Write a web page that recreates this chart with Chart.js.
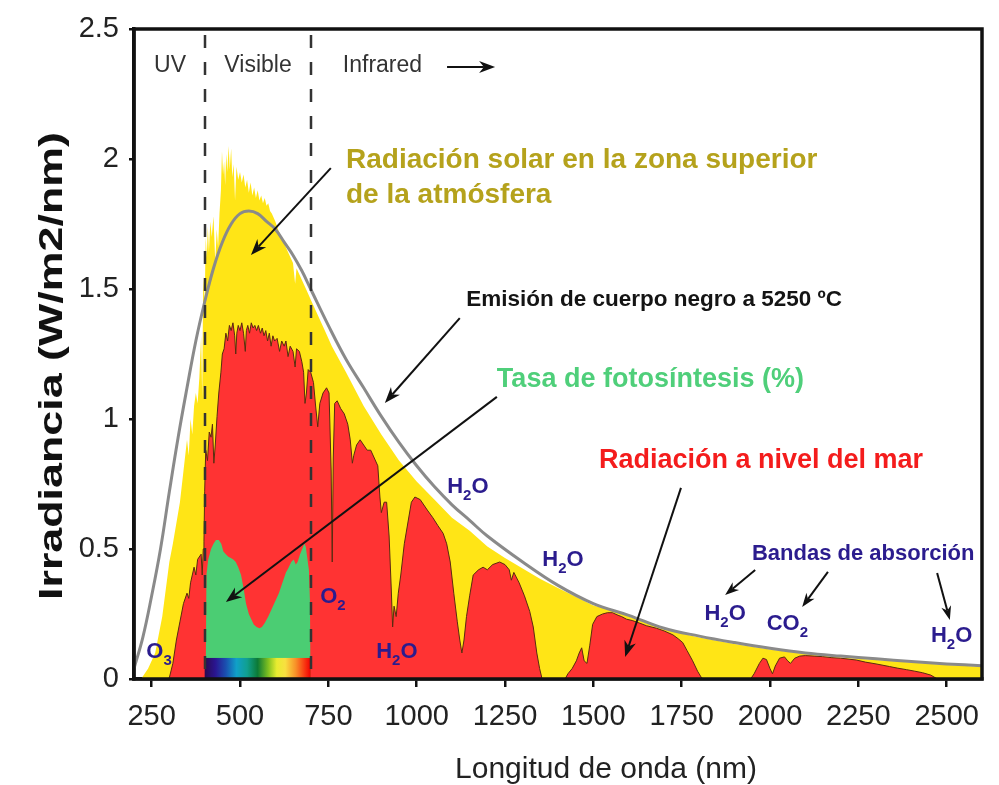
<!DOCTYPE html>
<html><head><meta charset="utf-8">
<script src="https://cdn.jsdelivr.net/npm/chart.js@4.4.0/dist/chart.umd.min.js"></script>
<style>html,body{margin:0;padding:0;background:#fff}canvas{display:block}</style>
</head><body>
<canvas id="c" width="999" height="785"></canvas>
<script>
// ---------- DATA ----------
const xTicks = [250, 500, 750, 1000, 1250, 1500, 1750, 2000, 2250, 2500];
const yTicks = [0, 0.5, 1, 1.5, 2, 2.5];
const yTickLabels = ['0', '0.5', '1', '1.5', '2', '2.5'];

// Black body emission at 5250 ºC
const bbNm  = [200,225,250,275,300,325,350,375,400,425,
               450,475,500,525,550,575,600,625,650,675,
               700,750,800,850,900,950,1000,1050,1100,1150,
               1200,1300,1400,1500,1600,1700,1800,1900,2000,2100,
               2200,2300,2400,2500,2600];
const bbIrr = [0.04,0.16,0.32,0.50,0.72,0.93,1.12,1.30,1.45,1.58,
               1.68,1.75,1.79,1.80,1.79,1.76,1.73,1.68,1.63,1.57,
               1.50,1.36,1.23,1.12,1.01,0.91,0.82,0.74,0.67,0.61,
               0.55,0.45,0.36,0.29,0.245,0.195,0.165,0.14,0.118,0.10,
               0.088,0.078,0.067,0.058,0.051];

// Solar radiation at top of atmosphere
const topNm  = [200,220,240,260,280,300,310,320,330,340,
                350,355,360,365,370,375,380,385,390,393,
                396,400,403,406,409,412,416,420,425,430,
                434,438,442,446,449,452,455,458,461,464,
                468,471,475,478,482,486,490,495,500,505,
                510,515,520,525,530,535,540,545,550,555,
                560,565,570,575,580,585,590,600,610,620,
                630,640,650,656,660,670,680,690,700,720,
                740,760,780,800,850,900,950,1000,1050,1100,
                1150,1200,1250,1300,1350,1400,1500,1550,1600,1700,
                1800,1900,2000,2100,2200,2300,2400,2500,2600];
const topIrr = [0,0,0.04,0.10,0.24,0.45,0.52,0.60,0.68,0.80,
                0.92,0.86,1.00,0.94,1.05,1.10,1.06,1.16,1.32,1.08,
                1.55,1.45,1.70,1.62,1.74,1.64,1.76,1.70,1.78,1.60,
                1.73,1.66,1.79,1.88,2.03,1.94,1.99,1.90,2.02,1.95,
                2.05,1.96,2.04,1.93,1.98,1.84,1.97,1.92,1.95,1.91,
                1.94,1.89,1.92,1.87,1.91,1.86,1.89,1.85,1.88,1.84,
                1.86,1.83,1.85,1.82,1.83,1.80,1.79,1.76,1.72,1.69,
                1.66,1.63,1.60,1.52,1.58,1.55,1.52,1.49,1.46,1.40,
                1.34,1.28,1.23,1.18,1.05,0.94,0.84,0.76,0.69,0.62,
                0.57,0.51,0.465,0.425,0.385,0.35,0.283,0.265,0.24,0.19,
                0.16,0.135,0.113,0.096,0.083,0.073,0.063,0.054,0.047];

// Solar radiation at sea level
const seaNm  = [295,300,310,320,330,340,350,355,360,370,
                375,380,390,393,396,398,400,403,408,413,
                418,422,426,430,435,440,446,450,455,460,
                465,470,475,480,485,488,491,495,500,505,
                510,515,518,522,527,532,537,542,547,552,
                558,563,568,573,578,583,588,593,598,605,
                612,618,625,630,636,642,650,656,660,668,
                675,680,684,688,693,700,708,714,720,726,
                735,745,752,758,761,764,768,775,785,795,
                805,812,818,822,830,840,850,860,870,880,
                890,896,900,908,915,922,928,932,936,942,
                948,955,965,975,985,995,1010,1030,1046,1060,
                1075,1085,1095,1105,1115,1122,1128,1134,1141,1150,
                1160,1175,1188,1200,1215,1235,1250,1262,1268,1275,
                1290,1305,1320,1330,1340,1348,1355,1420,1428,1440,
                1452,1460,1467,1474,1482,1490,1498,1510,1526,1540,
                1554,1570,1580,1594,1610,1631,1650,1679,1700,1725,
                1740,1753,1765,1781,1795,1806,1812,1945,1955,1970,
                1980,1990,2000,2007,2015,2027,2041,2050,2058,2070,
                2084,2100,2125,2149,2175,2200,2244,2270,2300,2338,
                2360,2386,2410,2432,2455,2474];
const seaIrr = [0,0.005,0.06,0.15,0.22,0.29,0.33,0.31,0.37,0.43,
                0.40,0.46,0.48,0.40,0.50,0.53,0.72,0.88,0.84,0.95,
                0.93,0.98,0.83,0.90,1.01,1.10,1.18,1.25,1.27,1.33,
                1.30,1.36,1.34,1.37,1.32,1.25,1.33,1.36,1.34,1.37,
                1.33,1.26,1.34,1.36,1.33,1.37,1.35,1.36,1.34,1.36,
                1.33,1.35,1.32,1.34,1.30,1.33,1.28,1.32,1.30,1.31,
                1.26,1.30,1.28,1.30,1.24,1.28,1.26,1.20,1.27,1.26,
                1.22,1.18,1.06,1.10,1.19,1.18,1.14,1.05,0.97,1.06,
                1.10,1.12,1.10,0.80,0.45,0.85,1.06,1.07,1.04,1.02,
                0.98,0.92,0.83,0.86,0.90,0.92,0.90,0.88,0.88,0.85,
                0.82,0.70,0.64,0.68,0.68,0.55,0.35,0.20,0.28,0.24,
                0.33,0.40,0.52,0.60,0.68,0.70,0.69,0.65,0.62,0.59,
                0.56,0.52,0.45,0.33,0.22,0.15,0.10,0.15,0.24,0.32,
                0.40,0.42,0.43,0.42,0.44,0.45,0.44,0.42,0.38,0.41,
                0.37,0.32,0.26,0.20,0.10,0.04,0,0,0.02,0.04,
                0.07,0.10,0.12,0.07,0.06,0.13,0.21,0.24,0.25,0.255,
                0.255,0.245,0.24,0.23,0.225,0.215,0.205,0.195,0.185,0.17,
                0.155,0.14,0.11,0.07,0.03,0.005,0,0,0.02,0.06,
                0.08,0.075,0.04,0.02,0.05,0.08,0.085,0.07,0.06,0.08,
                0.088,0.09,0.088,0.086,0.082,0.08,0.073,0.065,0.058,0.048,
                0.042,0.036,0.03,0.024,0.015,0];

// Photosynthesis rate (%)
const photoNm   = [400,403,405,410,418,425,432,440,447,453,
                   460,467,474,481,488,495,503,510,517,525,
                   532,539,547,555,562,570,580,590,600,610,
                   620,630,638,645,652,658,663,670,676,682,
                   686,690,695,698,700];
const photoRate = [0,0.02,0.40,0.46,0.50,0.52,0.535,0.535,0.52,0.49,
                   0.48,0.47,0.465,0.46,0.45,0.43,0.40,0.35,0.29,0.25,
                   0.23,0.21,0.20,0.195,0.20,0.215,0.24,0.27,0.30,0.33,
                   0.37,0.41,0.43,0.45,0.46,0.44,0.45,0.48,0.50,0.52,
                   0.51,0.47,0.42,0.30,0];

// Visible band limits (nm)
const visibleRange = [400, 700];

// ---------- CHART ----------
const FONT = '"Liberation Sans", Arial, sans-serif';
const toXY = (xs, ys) => xs.map((x, i) => ({ x, y: ys[i] }));

function drawArrow(ctx, x1, y1, x2, y2, head = 16, half = 6) {
  const a = Math.atan2(y2 - y1, x2 - x1), c = Math.cos(a), s = Math.sin(a);
  ctx.beginPath();
  ctx.moveTo(x1, y1);
  ctx.lineTo(x2 - head * 0.7 * c, y2 - head * 0.7 * s);
  ctx.stroke();
  const bx = x2 - head * c, by = y2 - head * s;
  ctx.beginPath();
  ctx.moveTo(x2, y2);
  ctx.lineTo(bx - half * s, by + half * c);
  ctx.lineTo(x2 - head * 0.7 * c, y2 - head * 0.7 * s);
  ctx.lineTo(bx + half * s, by - half * c);
  ctx.closePath();
  ctx.fill();
}

function chem(ctx, parts, cx, base, size) {
  const big = `bold ${size}px ${FONT}`, small = `bold ${Math.round(size * 0.7)}px ${FONT}`;
  let w = 0;
  parts.forEach(([t, sub]) => { ctx.font = sub ? small : big; w += ctx.measureText(t).width; });
  let x = cx - w / 2;
  ctx.textAlign = 'left';
  ctx.textBaseline = 'alphabetic';
  parts.forEach(([t, sub]) => {
    ctx.font = sub ? small : big;
    ctx.fillText(t, x, base + (sub ? size * 0.32 : 0));
    x += ctx.measureText(t).width;
  });
}

const overlay = {
  id: 'overlay',
  afterDatasetsDraw(chart) {
    const { ctx, chartArea: a, scales: { x, y } } = chart;
    ctx.save();
    // rainbow bar of visible spectrum
    const x0 = x.getPixelForValue(visibleRange[0]), x1 = x.getPixelForValue(visibleRange[1]);
    const g = ctx.createLinearGradient(x0, 0, x1, 0);
    [[0, '#2a0a50'], [0.1, '#2a1590'], [0.2, '#1a50b0'], [0.3, '#10a0c8'], [0.4, '#10a090'],
     [0.5, '#0c7a35'], [0.6, '#80c020'], [0.68, '#e8ec30'], [0.76, '#f8e040'], [0.86, '#f89028'],
     [0.95, '#f83010'], [1, '#f00000']].forEach(([p, col]) => g.addColorStop(p, col));
    ctx.fillStyle = g;
    const yt = y.getPixelForValue(0.081), yb = y.getPixelForValue(0);
    ctx.fillRect(x0, yt, x1 - x0, yb - yt);
    // dashed region boundaries
    ctx.strokeStyle = '#333';
    ctx.lineWidth = 2.5;
    ctx.setLineDash([13, 14]);
    visibleRange.forEach(v => {
      const px = Math.round(x.getPixelForValue(v));
      ctx.beginPath(); ctx.moveTo(px, a.top + 6); ctx.lineTo(px, a.bottom); ctx.stroke();
    });
    ctx.setLineDash([]);
    // frame
    ctx.strokeStyle = '#111';
    ctx.lineWidth = 3.5;
    ctx.strokeRect(a.left, a.top, a.right - a.left, a.bottom - a.top);
    ctx.restore();
  },
  afterDraw(chart) {
    const { ctx, chartArea: a, scales: { x, y } } = chart;
    const X = v => x.getPixelForValue(v), Y = v => y.getPixelForValue(v);
    ctx.save();
    // region labels
    ctx.fillStyle = '#333';
    ctx.font = `23px ${FONT}`;
    ctx.textBaseline = 'middle';
    ctx.textAlign = 'center';
    ctx.fillText('UV', X(302), Y(2.358));
    ctx.fillText('Visible', X(551), Y(2.358));
    ctx.textAlign = 'left';
    ctx.fillText('Infrared', X(791), Y(2.358));
    ctx.strokeStyle = '#111'; ctx.fillStyle = '#111'; ctx.lineWidth = 2;
    drawArrow(ctx, X(1086), Y(2.354), X(1222), Y(2.354), 16, 6);

    // series captions
    ctx.textBaseline = 'alphabetic';
    ctx.textAlign = 'left';
    ctx.fillStyle = '#b5a21c';
    ctx.font = `bold 28px ${FONT}`;
    ctx.fillText('Radiación solar en la zona superior', X(800), Y(1.965));
    ctx.fillText('de la atmósfera', X(800), Y(1.831));
    ctx.fillStyle = '#141414';
    ctx.font = `bold 22.5px ${FONT}`;
    ctx.fillText('Emisión de cuerpo negro a 5250 ºC', X(1140), Y(1.435));
    ctx.fillStyle = '#4fcf7a';
    ctx.font = `bold 27px ${FONT}`;
    ctx.fillText('Tasa de fotosíntesis (%)', X(1227), Y(1.123));
    ctx.fillStyle = '#f41c1c';
    ctx.font = `bold 27px ${FONT}`;
    ctx.fillText('Radiación a nivel del mar', X(1516), Y(0.812));
    ctx.fillStyle = '#2b1c8e';
    ctx.font = `bold 22px ${FONT}`;
    ctx.fillText('Bandas de absorción', X(1949), Y(0.458));

    // arrows
    ctx.strokeStyle = '#111'; ctx.fillStyle = '#111'; ctx.lineWidth = 2;
    drawArrow(ctx, X(757), Y(1.965), X(531), Y(1.631));
    drawArrow(ctx, X(1122), Y(1.388), X(910), Y(1.062));
    drawArrow(ctx, X(1227), Y(1.085), X(460), Y(0.296));
    drawArrow(ctx, X(1748), Y(0.735), X(1590), Y(0.085));
    drawArrow(ctx, X(1958), Y(0.419), X(1873), Y(0.323), 14, 5);
    drawArrow(ctx, X(2164), Y(0.412), X(2091), Y(0.277), 14, 5);
    drawArrow(ctx, X(2473), Y(0.408), X(2509), Y(0.227), 14, 5);

    // absorption labels
    ctx.fillStyle = '#2b1c8e';
    const H2O = [['H', false], ['2', true], ['O', false]];
    chem(ctx, H2O, X(1873), Y(0.227), 22);
    chem(ctx, [['CO', false], ['2', true]], X(2049), Y(0.188), 22);
    chem(ctx, H2O, X(2514), Y(0.142), 22);
    chem(ctx, H2O, X(1414), Y(0.435), 22);
    chem(ctx, H2O, X(1145), Y(0.715), 22);
    chem(ctx, H2O, X(944), Y(0.081), 22);
    chem(ctx, [['O', false], ['2', true]], X(763), Y(0.292), 22);
    chem(ctx, [['O', false], ['3', true]], X(271), Y(0.081), 22);

    // axis titles
    ctx.fillStyle = '#222';
    ctx.font = `30px ${FONT}`;
    ctx.textAlign = 'center';
    ctx.textBaseline = 'alphabetic';
    ctx.fillText('Longitud de onda (nm)', a.left + 472, a.bottom + 99);

    ctx.save();
    ctx.translate(a.left - 72, a.top + 337);
    ctx.rotate(-Math.PI / 2);
    ctx.font = `bold 33px ${FONT}`;
    ctx.fillStyle = '#111';
    const t = 'Irradiancia (W/m2/nm)';
    const w = ctx.measureText(t).width;
    ctx.scale(468 / w, 1);
    ctx.fillText(t, 0, 0);
    ctx.restore();
    ctx.restore();
  }
};

new Chart(document.getElementById('c'), {
  type: 'line',
  data: {
    datasets: [
      { label: 'Emisión de cuerpo negro a 5250 ºC', data: toXY(bbNm, bbIrr),
        borderColor: '#8a8a8a', borderWidth: 3, pointRadius: 0, fill: false, tension: 0.4 },
      { label: 'Tasa de fotosíntesis (%)', data: toXY(photoNm, photoRate),
        borderColor: 'rgba(0,0,0,0)', borderWidth: 0, backgroundColor: '#4bcd73',
        fill: 'origin', pointRadius: 0 },
      { label: 'Radiación a nivel del mar', data: toXY(seaNm, seaIrr),
        borderColor: '#5a2a10', borderWidth: 1, backgroundColor: '#ff3333',
        fill: 'origin', pointRadius: 0 },
      { label: 'Radiación solar en la zona superior de la atmósfera', data: toXY(topNm, topIrr),
        borderColor: 'rgba(0,0,0,0)', borderWidth: 0, backgroundColor: '#ffe516',
        fill: 'origin', pointRadius: 0 }
    ]
  },
  options: {
    responsive: false,
    animation: false,
    devicePixelRatio: 1,
    events: [],
    layout: { padding: { top: 29, right: 17, left: 0, bottom: 0 } },
    plugins: { legend: { display: false }, tooltip: { enabled: false } },
    scales: {
      x: {
        type: 'linear', min: 200, max: 2600,
        afterBuildTicks: s => { s.ticks = xTicks.map(v => ({ value: v })); },
        afterFit: s => { s.height = 106; },
        ticks: { font: { size: 29, family: FONT }, color: '#222', padding: 13, maxRotation: 0, autoSkip: false,
                 callback: v => String(v) },
        grid: { drawOnChartArea: false, drawTicks: true, tickLength: 8, color: '#111', lineWidth: 2.5 },
        border: { display: true, color: '#111', width: 3.5 }
      },
      y: {
        min: 0, max: 2.5,
        afterBuildTicks: s => { s.ticks = yTicks.map(v => ({ value: v })); },
        afterFit: s => { s.width = 134; },
        ticks: { font: { size: 29, family: FONT }, color: '#222', padding: 10,
                 callback: (v) => yTickLabels[yTicks.indexOf(v)] },
        grid: { drawOnChartArea: false, drawTicks: true, tickLength: 5, color: '#111', lineWidth: 2.5 },
        border: { display: true, color: '#111', width: 3.5 }
      }
    }
  },
  plugins: [overlay]
});
</script>
</body></html>
